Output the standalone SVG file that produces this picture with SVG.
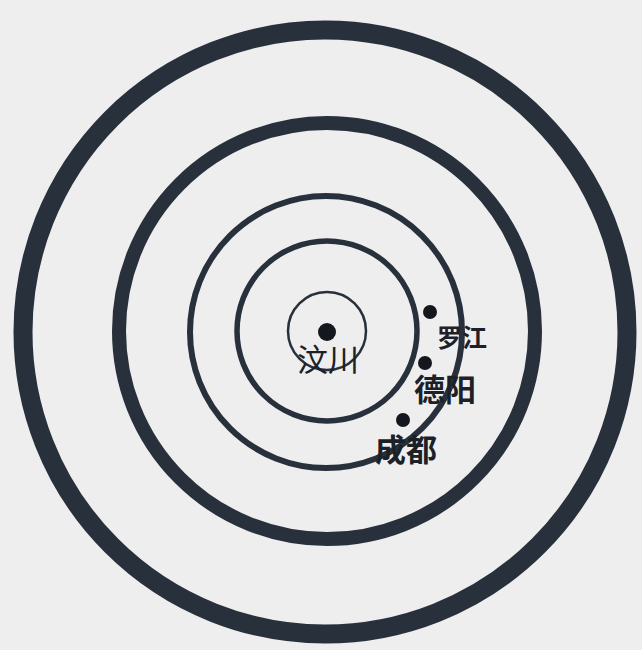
<svg xmlns="http://www.w3.org/2000/svg" width="642" height="650" viewBox="0 0 642 650">
  <style>
    .ring { fill: none; stroke: #27303b; }
    .dot { fill: #14181e; }
    .lbl { font-family: "Noto Sans CJK SC", "Noto Sans CJK TC", sans-serif; fill: #1c2128; }
  </style>
  <rect x="0" y="0" width="642" height="650" fill="#eeeeef"/>
  <g id="rings">
    <circle id="ring5" class="ring" cx="325" cy="332" r="302" stroke-width="19"/>
    <circle id="ring4" class="ring" cx="327" cy="331" r="208" stroke-width="14"/>
    <circle id="ring3" class="ring" cx="326" cy="332" r="136" stroke-width="6"/>
    <circle id="ring2" class="ring" cx="327" cy="331" r="90" stroke-width="5.5"/>
    <circle id="ring1" class="ring" cx="327" cy="331" r="39" stroke-width="2.5"/>
  </g>
  <g id="wenchuan">
    <circle class="dot" cx="327" cy="332" r="9"/>
    <text class="lbl" x="328" y="371" font-size="31" font-weight="400" text-anchor="middle">汶川</text>
  </g>
  <g id="luojiang">
    <circle class="dot" cx="430" cy="312" r="7"/>
    <text class="lbl" x="462" y="347" font-size="25" font-weight="bold" text-anchor="middle">罗江</text>
  </g>
  <g id="deyang">
    <circle class="dot" cx="425" cy="363" r="7"/>
    <text class="lbl" x="445" y="401" font-size="31" font-weight="bold" text-anchor="middle">德阳</text>
  </g>
  <g id="chengdu">
    <circle class="dot" cx="403" cy="420" r="7"/>
    <text class="lbl" x="406" y="461" font-size="31" font-weight="bold" text-anchor="middle">成都</text>
  </g>
</svg>
